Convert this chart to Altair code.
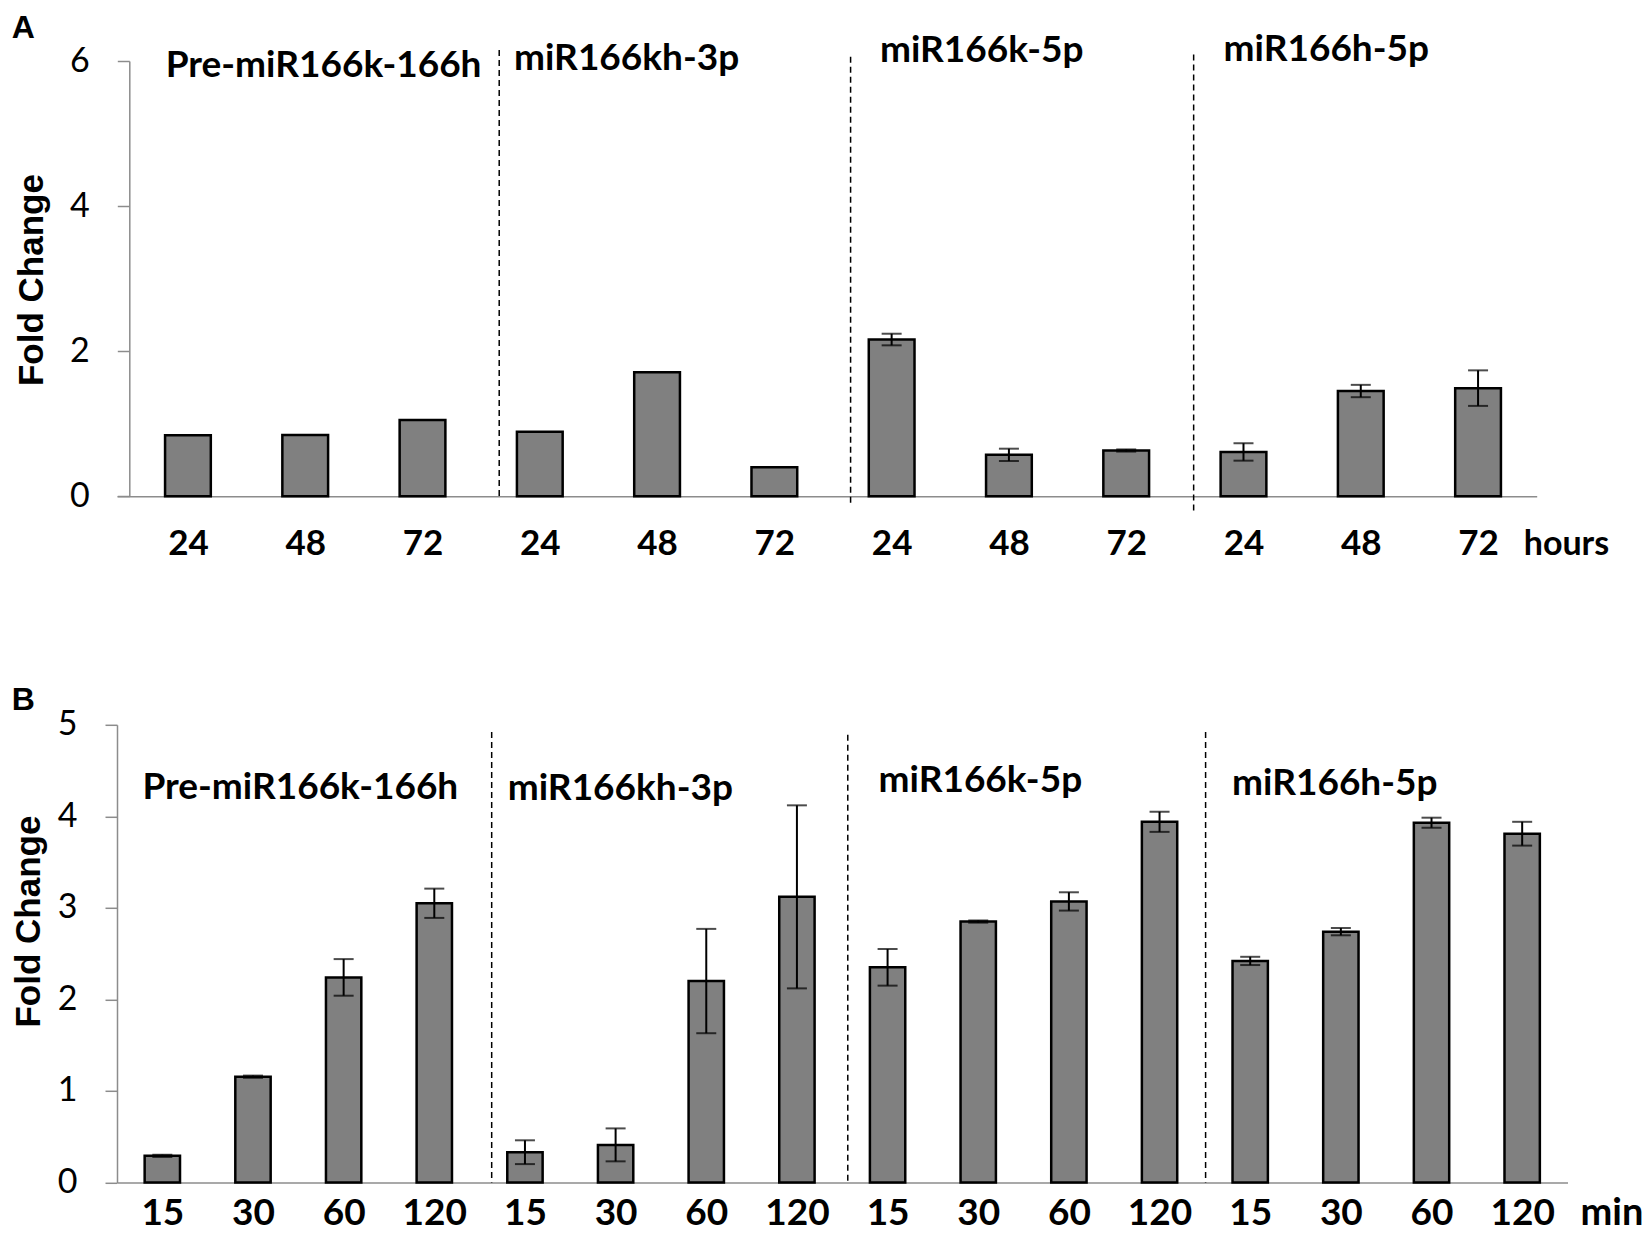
import altair as alt
import pandas as pd

# ---------------- data ----------------
A_groups = ["Pre-miR166k-166h", "miR166kh-3p", "miR166k-5p", "miR166h-5p"]
A_times = ["24", "48", "72"]
A_values = [0.84, 0.845, 1.05, 0.89, 1.71, 0.40, 2.16, 0.57, 0.63, 0.61, 1.45, 1.49]
A_errors = [0, 0, 0, 0, 0, 0, 0.08, 0.085, 0.015, 0.12, 0.085, 0.245]

B_groups = ["Pre-miR166k-166h", "miR166kh-3p", "miR166k-5p", "miR166h-5p"]
B_times = ["15", "30", "60", "120"]
B_values = [0.29, 1.155, 2.24, 3.05, 0.33, 0.41, 2.20, 3.12, 2.35, 2.85, 3.07, 3.94, 2.42, 2.74, 3.93, 3.81]
B_errors = [0.012, 0.012, 0.20, 0.16, 0.13, 0.18, 0.57, 1.00, 0.20, 0.012, 0.10, 0.11, 0.045, 0.04, 0.055, 0.13]

# ---------------- annotation layout (axis units) ----------------
A_div_x = [2.654, 5.65, 8.575]
A_div_top = [6.15, 6.06, 6.09]
A_div_bot = [-0.05, -0.14, -0.21]
A_lab_x = [-0.19, 2.78, 5.90, 8.83]
A_lab_y = [5.78, 5.87, 5.98, 6.0]

B_div_x = [3.633, 7.561, 11.508]
B_div_top = [4.92, 4.89, 4.92]
B_div_bot = [0.0, -0.02, 0.0]
B_lab_x = [-0.22, 3.81, 7.90, 11.80]
B_lab_y = [4.19, 4.18, 4.27, 4.23]

AXC = "#8c8c8c"


def panel(groups, times, values, errors, ymax, yticks, W, H, xlead, yoff,
          div_x, div_top, div_bot, lab_x, lab_y,
          letter, letter_xy, unit, unit_xy, unit_fs, xfs, xpad, title_xy):
    n = len(values)
    labels = [t for g in groups for t in times]
    df = pd.DataFrame({
        "idx": list(range(n)),
        "group": [g for g in groups for t in times],
        "time": labels,
        "value": values,
        "err": errors,
    })
    df["lo"] = df["value"] - df["err"]
    df["hi"] = df["value"] + df["err"]

    label_expr = "[" + ",".join("'%s'" % t for t in labels) + "][datum.value]"
    xs = alt.Scale(domain=[-0.5 - xlead, n - 0.5], nice=False, zero=False, padding=0)
    ys = alt.Scale(domain=[0, ymax], nice=False, zero=True, padding=0)

    xaxis = alt.Axis(values=list(range(n)), labelExpr=label_expr, title=None,
                     ticks=False, grid=False, labelFont="Lato", labelFontWeight="bold",
                     labelFontSize=xfs, labelPadding=xpad, labelColor="black",
                     labelAngle=0, labelFlush=False, labelOverlap=False,
                     domainColor=AXC, domainWidth=1.5)
    yaxis = alt.Axis(values=yticks, title="Fold Change", titleFont="Liberation Sans",
                     titleFontWeight="bold", titleFontSize=35, titleColor="black",
                     titleX=title_xy[0], titleY=title_xy[1], titleAngle=270,
                     titleAlign="center", titleBaseline="alphabetic",
                     labelFont="Lato", labelFontSize=34, labelColor="black",
                     labelPadding=28, tickSize=12, tickColor=AXC, tickWidth=1.5,
                     domainColor=AXC, domainWidth=1.5, grid=False, format="d",
                     offset=yoff)

    base = alt.Chart(df)
    bars = base.transform_calculate(
        x0="datum.idx - 0.195", x1="datum.idx + 0.195"
    ).mark_bar(color="#808080", stroke="black", strokeWidth=2.5).encode(
        x=alt.X("x0:Q", scale=xs, axis=xaxis),
        x2="x1:Q",
        y=alt.Y("value:Q", scale=ys, axis=yaxis),
        y2=alt.datum(0),
    )
    errs = base.transform_filter("datum.err > 0").mark_rule(
        color="black", strokeWidth=2
    ).encode(
        x=alt.X("idx:Q", scale=xs, title=None),
        y=alt.Y("lo:Q", scale=ys, title="Fold Change"),
        y2="hi:Q",
    )
    caps = base.transform_filter("datum.err > 0").transform_fold(
        ["lo", "hi"], as_=["end", "yv"]
    ).mark_tick(orient="horizontal", size=20, thickness=2, color="black").encode(
        x=alt.X("idx:Q", scale=xs, title=None),
        y=alt.Y("yv:Q", scale=ys, title="Fold Change"),
    )

    div_df = pd.DataFrame({"pos": div_x, "top": div_top, "bot": div_bot})
    divs = alt.Chart(div_df).mark_rule(
        color="black", strokeWidth=1.5, strokeDash=[6, 4]
    ).encode(
        x=alt.X("pos:Q", scale=xs, title=None),
        y=alt.Y("top:Q", scale=ys, title="Fold Change"),
        y2="bot:Q",
    )

    lab_df = pd.DataFrame({"label": groups, "lx": lab_x, "ly": lab_y})
    labs = alt.Chart(lab_df).mark_text(
        align="left", baseline="alphabetic", font="Lato", fontWeight="bold",
        fontSize=37, color="black"
    ).encode(
        x=alt.X("lx:Q", scale=xs, title=None),
        y=alt.Y("ly:Q", scale=ys, title="Fold Change"),
        text="label:N",
    )

    let = alt.Chart(pd.DataFrame({"t": [letter]})).mark_text(
        align="left", baseline="alphabetic", font="Liberation Sans",
        fontWeight="bold", fontSize=32, color="black"
    ).encode(x=alt.value(letter_xy[0]), y=alt.value(letter_xy[1]), text="t:N")

    un = alt.Chart(pd.DataFrame({"t": [unit]})).mark_text(
        align="left", baseline="alphabetic", font="Lato",
        fontWeight="bold", fontSize=unit_fs, color="black"
    ).encode(x=alt.value(unit_xy[0]), y=alt.value(unit_xy[1]), text="t:N")

    return alt.layer(divs, bars, errs, caps, labs, let, un).properties(width=W, height=H)


# plot areas (both panels start at the same left edge; panel A's y axis is inset)
WA, HA = 1419.7, 435.2
WB, HB = 1450.5, 457.6
A_lead = 12.3 / 117.3

panelA = panel(A_groups, A_times, A_values, A_errors, 6, [0, 2, 4, 6], WA, HA, A_lead, -12.3,
               A_div_x, A_div_top, A_div_bot, A_lab_x, A_lab_y,
               "A", (-105.3, -22.8), "hours", (WA - 13, HA + 59), 34, 35, 30.7,
               (-87.1, HA / 2 + 1))
panelB = panel(B_groups, B_times, B_values, B_errors, 5, [0, 1, 2, 3, 4, 5], WB, HB, 0.0, 0,
               B_div_x, B_div_top, B_div_bot, B_lab_x, B_lab_y,
               "B", (-105.3, -14.7), "min", (WB + 13, HB + 42.7), 38, 37, 13.5,
               (-77.3, 196.3))

chart = alt.concat(panelA, panelB, columns=1, spacing=120.8, align="none",
                   padding={"left": 3, "top": 4, "right": 0, "bottom": 0}
                   ).configure_view(stroke=None)

chart.save("out.html", embed_options={"renderer": "svg", "actions": False})
